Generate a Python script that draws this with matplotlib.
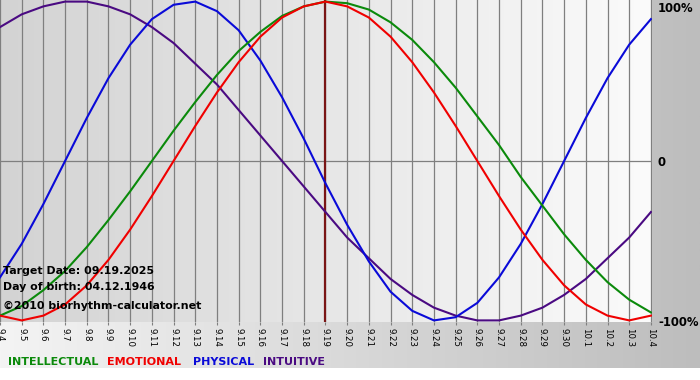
import matplotlib.pyplot as plt
import numpy as np
from matplotlib.colors import LinearSegmentedColormap

# Days shown on the x axis
dates = ["9.4", "9.5", "9.6", "9.7", "9.8", "9.9", "9.10", "9.11", "9.12", "9.13",
         "9.14", "9.15", "9.16", "9.17", "9.18", "9.19", "9.20", "9.21", "9.22", "9.23",
         "9.24", "9.25", "9.26", "9.27", "9.28", "9.29", "9.30", "10.1", "10.2", "10.3",
         "10.4"]
target = "9.19"

# Cycle values in percent, one per day
physical = [-73, -52, -27, 0, 27, 52, 73, 89, 98, 100, 94, 82, 63, 40, 14, -14,
            -40, -63, -82, -94, -100, -98, -89, -73, -52, -27, 0, 27, 52, 73, 89]
emotional = [-97, -100, -97, -90, -78, -62, -43, -22, 0, 22, 43, 62, 78, 90, 97, 100,
             97, 90, 78, 62, 43, 22, 0, -22, -43, -62, -78, -90, -97, -100, -97]
intellectual = [-97, -91, -81, -69, -54, -37, -19, 0, 19, 37, 54, 69, 81, 91, 97, 100,
                99, 95, 87, 76, 62, 46, 28, 10, -10, -28, -46, -62, -76, -87, -95]
intuitive = [84, 92, 97, 100, 100, 97, 92, 84, 74, 61, 48, 32, 16, 0, -16, -32,
             -48, -61, -74, -84, -92, -97, -100, -100, -97, -92, -84, -74, -61, -48, -32]

GREEN, RED, BLUE, PURPLE = "#0b8a0b", "#f00000", "#0a0ad8", "#4a0a82"

W, H = 700, 380
fig = plt.figure(figsize=(W / 100, H / 100), dpi=100)


def rect(x0, y0, x1, y1):
    # pixel box (top-left origin) -> figure fraction
    return [x0 / W, 1 - y1 / H, (x1 - x0) / W, (y1 - y0) / H]


def px(x, y):
    return x / W, 1 - y / H


# Background band behind the plot, light on the left and grey on the right
bg = fig.add_axes(rect(0, 0, W, 368))
bg_cmap = LinearSegmentedColormap.from_list("bg", ["#f4f4f4", "#bdbdbd"])
bg.imshow(np.linspace(0, 1, 256)[None, :], cmap=bg_cmap, aspect="auto",
          extent=[0, 1, 0, 1])
bg.axis("off")

# Plot area
ax = fig.add_axes(rect(0, 0, 652, 322))
x = np.arange(len(dates))
x_max = len(dates) - 1 + 0.05
plot_cmap = LinearSegmentedColormap.from_list("plot", ["#d3d3d3", "#fbfbfb"])
ax.imshow(np.linspace(0, 1, 256)[None, :], cmap=plot_cmap, aspect="auto",
          extent=[0, x_max, -101, 101], zorder=0)

for xi in x:
    ax.axvline(xi, color="#7f7f7f", lw=0.9, zorder=1)
ax.axhline(0, color="#7f7f7f", lw=0.9, zorder=1)
ax.axvline(dates.index(target), color="#7a1515", lw=1.6, zorder=2)

ax.plot(x, intuitive, color=PURPLE, lw=1.5, zorder=3)
ax.plot(x, physical, color=BLUE, lw=1.5, zorder=3)
ax.plot(x, intellectual, color=GREEN, lw=1.5, zorder=3)
ax.plot(x, emotional, color=RED, lw=1.5, zorder=3)

ax.set_xlim(0, x_max)
ax.set_ylim(-101, 101)
ax.set_xticks(x)
ax.set_xticklabels(dates, rotation=270, fontsize=6.2)
ax.set_yticks([])
ax.tick_params(axis="x", length=2.5, color="#7f7f7f", pad=1.5)
for s in ax.spines.values():
    s.set_visible(False)

# Right-hand scale labels
for label, y in [("100%", 8), ("0", 162), ("-100%", 322)]:
    fig.text(*px(658, y), label, fontsize=8.4, fontweight="bold", va="center")

# Info text
info = [("Target Date: 09.19.2025", 271), ("Day of birth: 04.12.1946", 287),
        ("\u00a92010 biorhythm-calculator.net", 306)]
for label, y in info:
    fig.text(*px(3, y), label, fontsize=7.9, fontweight="bold", va="center")

# Legend
legend = [("INTELLECTUAL", GREEN, 8), ("EMOTIONAL", RED, 107),
          ("PHYSICAL", BLUE, 193), ("INTUITIVE", PURPLE, 263)]
for label, color, lx in legend:
    fig.text(*px(lx, 362), label, color=color, fontsize=8.0, fontweight="bold",
             va="center")

fig.savefig("out.png", dpi=100)
